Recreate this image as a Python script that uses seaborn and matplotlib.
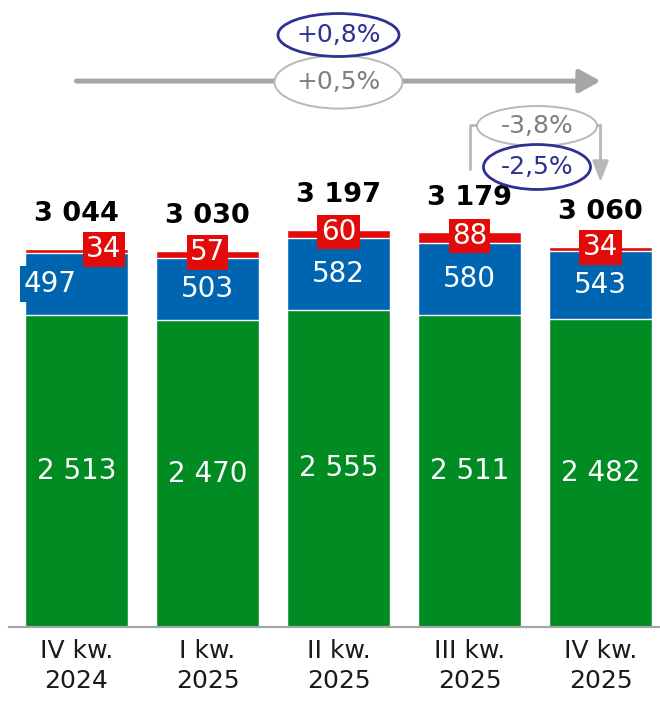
import numpy as np
import pandas as pd
import matplotlib.pyplot as plt
from matplotlib.patches import Ellipse
import seaborn as sns

# values
quarters = ["IV kw.\n2024", "I kw.\n2025", "II kw.\n2025", "III kw.\n2025", "IV kw.\n2025"]
green_vals = [2513, 2470, 2555, 2511, 2482]
blue_vals = [497, 503, 582, 580, 543]
red_vals = [34, 57, 60, 88, 34]
totals = [3044, 3030, 3197, 3179, 3060]

GREEN = "#008c23"
BLUE = "#0065b0"
RED = "#e30a0a"
NAVY = "#2e3192"
GREY_TXT = "#7f7f7f"
GREY_LINE = "#a6a6a6"

sns.set_style("white")
plt.rcParams["font.family"] = ["DejaVu Sans"]

df = pd.DataFrame({"q": quarters, "green": green_vals, "blue": blue_vals, "red": red_vals})
df["gb"] = df["green"] + df["blue"]
df["gbr"] = df["gb"] + df["red"]

fig = plt.figure(figsize=(6.6, 7.01), dpi=100)
ax = fig.add_axes([9 / 660, 74 / 701, 651 / 660, 627 / 701])

# stacked bars: draw the cumulative heights, tallest first
bw = 0.786
sns.barplot(data=df, x="q", y="gbr", color=RED, width=bw, saturation=1,
            edgecolor="white", linewidth=1, ax=ax)
sns.barplot(data=df, x="q", y="gb", color=BLUE, width=bw, saturation=1,
            edgecolor="white", linewidth=1, ax=ax)
sns.barplot(data=df, x="q", y="green", color=GREEN, width=bw, saturation=1,
            edgecolor="white", linewidth=1, ax=ax)

ax.set_xlim(-0.515, 4.454)
ax.set_ylim(0, 5050)
ax.set_xlabel("")
ax.set_ylabel("")
ax.set_yticks([])
for s in ["left", "right", "top"]:
    ax.spines[s].set_visible(False)
ax.spines["bottom"].set_color(GREY_LINE)
ax.spines["bottom"].set_linewidth(1.6)
ax.tick_params(axis="x", length=0, pad=9, labelsize=18, labelcolor="#1a1a1a")
for t in ax.get_xticklabels():
    t.set_linespacing(1.3)

def fmt(v):
    return f"{v:,}".replace(",", " ")

# the first bar has its small labels pushed sideways
blue_dx = [-0.2, 0, 0, 0, 0]
red_dx = [0.21, 0, 0, 0, 0]

for i in range(len(quarters)):
    g, b, r = green_vals[i], blue_vals[i], red_vals[i]
    ax.text(i, g / 2, fmt(g), ha="center", va="center", color="white", fontsize=20)
    ax.text(i + blue_dx[i], g + b / 2, fmt(b), ha="center", va="center", color="white",
            fontsize=20, bbox=dict(boxstyle="square,pad=0.14", fc=BLUE, ec="none"))
    ax.text(i + red_dx[i], g + b + r / 2 + 15, fmt(r), ha="center", va="center",
            color="white", fontsize=20,
            bbox=dict(boxstyle="square,pad=0.12", fc=RED, ec="none"))
    ax.text(i, totals[i] + 280, fmt(totals[i]), ha="center", va="center",
            color="black", fontsize=19.5, fontweight="bold")

# long arrow over the whole period
ax.annotate("", xy=(4, 4397), xytext=(0, 4397),
            arrowprops=dict(arrowstyle="-|>,head_length=0.9,head_width=0.5",
                            color=GREY_LINE, lw=3.6, mutation_scale=14,
                            shrinkA=0, shrinkB=0))
ax.add_patch(Ellipse((2, 4389), 0.977, 427, fc="white", ec="#b8b8b8", lw=1.4, zorder=5))
ax.text(2, 4389, "+0,5%", ha="center", va="center", color=GREY_TXT, fontsize=18, zorder=6)
ax.add_patch(Ellipse((2, 4768), 0.924, 346, fc="white", ec=NAVY, lw=2, zorder=5))
ax.text(2, 4768, "+0,8%", ha="center", va="center", color=NAVY, fontsize=18, zorder=6)

# quarter-on-quarter bracket
ax.plot([3, 3, 4], [3681, 4043, 4043], color="#b8b8b8", lw=2, solid_capstyle="butt")
ax.annotate("", xy=(4, 3584), xytext=(4, 4043),
            arrowprops=dict(arrowstyle="-|>,head_length=0.9,head_width=0.35",
                            color="#b8b8b8", lw=2, mutation_scale=14,
                            shrinkA=0, shrinkB=0))
ax.add_patch(Ellipse((3.515, 4035), 0.916, 322, fc="white", ec="#b8b8b8", lw=1.4, zorder=5))
ax.text(3.515, 4035, "-3,8%", ha="center", va="center", color=GREY_TXT, fontsize=18, zorder=6)
ax.add_patch(Ellipse((3.515, 3705), 0.817, 362, fc="white", ec=NAVY, lw=2, zorder=5))
ax.text(3.515, 3705, "-2,5%", ha="center", va="center", color=NAVY, fontsize=18, zorder=6)

plt.savefig("out.png", dpi=100)
